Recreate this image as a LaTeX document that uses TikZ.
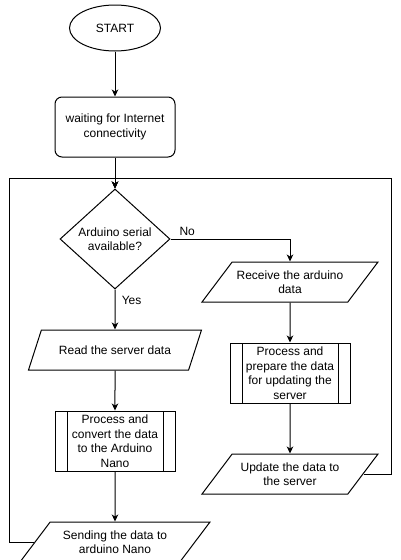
\documentclass[tikz,border=0pt]{standalone}
\usepackage{fontspec}
\setmainfont{Liberation Sans}
\usetikzlibrary{arrows.meta,shapes.geometric,positioning}

\begin{document}
\begin{tikzpicture}[
        x=1pt, y=1pt,
        >={Stealth[length=7pt,width=6.5pt,inset=2pt]}, line width=1pt,
        font=\fontsize{12}{14.5}\selectfont,
        base/.style={draw,align=center,inner sep=1pt},
        terminal/.style={base,ellipse,minimum width=91pt,minimum height=46pt},
        waitbox/.style={base,rounded corners=7pt,minimum width=120pt,minimum height=60pt},
        decision/.style={base,diamond,aspect=1.1,inner sep=0pt,minimum width=110pt,minimum height=100pt},
        io/.style={base,trapezium,trapezium left angle=40,trapezium right angle=140,
            trapezium stretches body,minimum height=40pt},
        subproc/.style={base,minimum width=120pt,minimum height=60pt,
            path picture={
                \draw ([xshift=12pt]path picture bounding box.north west) -- ([xshift=12pt]path picture bounding box.south west);
                \draw ([xshift=-12pt]path picture bounding box.north east) -- ([xshift=-12pt]path picture bounding box.south east);
            }},
        line/.style={draw,->}
    ]
    \useasboundingbox (0,0) rectangle (401,-560);

%%
% Start up and wait for the network
    \node (start) [terminal] at (115,-28) {START};
    \node (wait) [waitbox,below=45pt of start] {waiting for Internet\\connectivity};
    \node (dec) [decision,below=31pt of wait] {Arduino serial\\available?};
    \path[line]
        (start) -- (wait);
    \path[line]
        (wait) -- (dec);
%%
% Yes branch: server data goes to the Nano
    \node (read) [io,minimum width=173pt,below=40pt of dec] {Read the server data};
    \node (conv) [subproc,below=40pt of read] {Process and\\convert the data\\to the Arduino\\Nano};
    \node (send) [io,minimum width=190pt,below=50pt of conv] {Sending the data to\\arduino Nano};
    \path[line]
        (dec) -- node[right,pos=0.28,xshift=3pt] {Yes} (read);
    \path[line] (read) -- (conv);
    \path[line] (conv) -- (send);
%%
% No branch: arduino data goes to the server
    \node (recv) [io,minimum width=176pt] at (290,-282) {Receive the arduino\\data};
    \node (prep) [subproc,below=40pt of recv] {Process and\\prepare the data\\for updating the\\server};
    \node (upd) [io,minimum width=176pt,below=50pt of prep] {Update the data to\\the server};
    \path[line]
        (dec.east) -| node[above,pos=0.07] {No} (recv.north);
    \path[line] (recv) -- (prep);
    \path[line] (prep) -- (upd);
%%
% Both branches go back to the check
    \coordinate (jn) at ([yshift=10pt]dec.north);
    \draw[->] (send.west) -- ++(-25,0) |- (jn) -- (dec.north);
    \draw[->] (upd.east) -- ++(28,0) |- (jn) -- (dec.north);

\end{tikzpicture}
\end{document}
